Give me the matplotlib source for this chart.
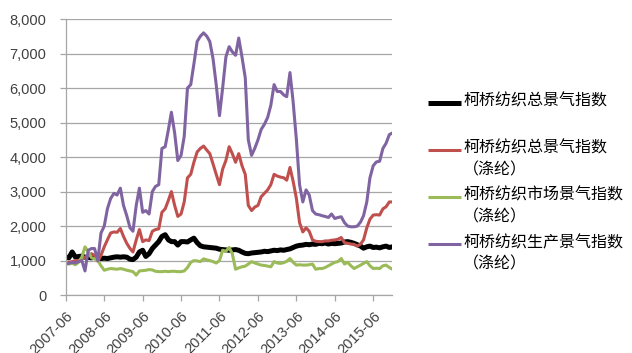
import numpy as np
import pandas as pd
import matplotlib
matplotlib.use('Agg')
import matplotlib.pyplot as plt
import matplotlib.dates as mdates
from matplotlib.lines import Line2D
from matplotlib.ticker import FuncFormatter

plt.rcParams['font.family'] = ['Liberation Sans', 'Noto Sans CJK SC', 'DejaVu Sans']

# monthly index values, 2007-06 .. 2015-12
months = pd.date_range('2007-06-01', periods=103, freq='MS')

total = [1100, 1080, 1250, 1100, 1120, 1130, 1100, 1090, 1080, 1100,
         1090, 1060, 1070, 1060, 1080, 1100, 1110, 1100, 1110, 1100,
         1040, 1030, 1100, 1250, 1300, 1120, 1200, 1350, 1450, 1550,
         1700, 1750, 1600, 1550, 1550, 1450, 1550, 1550, 1540, 1600,
         1650, 1520, 1430, 1400, 1390, 1380, 1370, 1360, 1330, 1320,
         1310, 1300, 1310, 1320, 1300, 1250, 1210, 1200, 1220, 1230,
         1240, 1250, 1270, 1260, 1280, 1300, 1290, 1310, 1300, 1320,
         1340, 1380, 1420, 1440, 1450, 1470, 1460, 1480, 1470, 1500,
         1490, 1510, 1480, 1500, 1490, 1500, 1510, 1540, 1550, 1530,
         1500, 1460, 1420, 1360, 1400, 1420, 1380, 1390, 1370, 1400,
         1420, 1380, 1400]

total_pet = [950, 950, 970, 1000, 1000, 1050, 1100, 1150, 1200, 1150,
             980, 1150, 1400, 1600, 1800, 1830, 1820, 1930, 1700, 1500,
             1350, 1250, 1600, 1900, 1550, 1600, 1580, 1850, 1900, 1920,
             2400, 2500, 2750, 3000, 2600, 2280, 2350, 2700, 3400, 3500,
             3850, 4150, 4250, 4320, 4200, 4100, 3800, 3500, 3200, 3650,
             3900, 4300, 4100, 3850, 4100, 3750, 3500, 2600, 2450, 2550,
             2600, 2850, 2950, 3050, 3200, 3500, 3450, 3420, 3400, 3330,
             3700, 3300, 2800, 2100, 1830, 1950, 1850, 1600, 1560, 1550,
             1550, 1570, 1570, 1590, 1600, 1620, 1670, 1520, 1500, 1480,
             1470, 1420, 1480, 1600, 1950, 2200, 2320, 2330, 2320, 2500,
             2560, 2700, 2700]

market_pet = [950, 900, 920, 880, 950, 1100, 1400, 1250, 1080, 1050,
              1000, 850, 720, 750, 770, 760, 750, 770, 750, 720,
              700, 680, 580, 700, 710, 720, 740, 730, 690, 680,
              680, 690, 680, 690, 690, 680, 680, 700, 800, 950,
              1000, 990, 970, 1050, 1020, 1000, 970, 930, 1000, 1300,
              1270, 1380, 1200, 750, 790, 820, 840, 900, 970, 930,
              900, 870, 860, 840, 820, 970, 930, 920, 940, 980,
              1060, 950, 870, 880, 870, 870, 880, 900, 750, 770,
              770, 800, 850, 900, 950, 970, 1060, 900, 950, 850,
              770, 820, 870, 920, 970, 850, 770, 780, 770, 850,
              870, 800, 750]

prod_pet = [900, 920, 950, 930, 970, 1000, 700, 1300, 1350, 1350,
            1000, 1800, 2000, 2500, 2800, 2950, 2900, 3100, 2600, 2300,
            1950, 1850, 2600, 3100, 2400, 2450, 2350, 3000, 3150, 3200,
            4250, 4300, 4800, 5300, 4700, 3900, 4050, 4600, 6000, 6100,
            6700, 7350, 7500, 7600, 7500, 7350, 6850, 6100, 5200, 6000,
            6900, 7200, 7050, 6950, 7450, 6900, 6300, 4500, 4050, 4250,
            4500, 4800, 4950, 5150, 5500, 6100, 5900, 5900, 5800, 5750,
            6450, 5600, 4500, 3200, 2700, 3050, 2900, 2450, 2350, 2330,
            2300, 2280, 2250, 2350, 2220, 2250, 2270, 2100, 2000, 1980,
            1980, 2000, 2120, 2300, 2700, 3400, 3750, 3860, 3880, 4250,
            4400, 4650, 4700]

series_names = ['柯桥纺织总景气指数',
                '柯桥纺织总景气指数\n（涤纶）',
                '柯桥纺织市场景气指数\n（涤纶）',
                '柯桥纺织生产景气指数\n（涤纶）']
colors = ['#000000', '#C0504D', '#9BBB59', '#8064A2']
widths = [3.6, 2.2, 2.2, 2.2]

tick_dates = pd.date_range('2007-06-01', '2015-06-01', freq='12MS')
yticks = np.arange(0, 8001, 1000)

fig = plt.figure(figsize=(6.32, 3.53), dpi=100)
ax = fig.add_axes([0.104, 0.164, 0.517, 0.782])

for vals, c, lw in zip([total, total_pet, market_pet, prod_pet], colors, widths):
    ax.plot(months, vals, color=c, lw=lw, solid_joinstyle='round')

ax.set_xlim(months[0], months[-1])
ax.set_ylim(0, 8000)
ax.set_yticks(yticks)
ax.yaxis.set_major_formatter(FuncFormatter(lambda v, p: '{:,.0f}'.format(v)))
ax.set_xticks(tick_dates)
ax.xaxis.set_major_formatter(mdates.DateFormatter('%Y-%m'))
for lab in ax.get_xticklabels():
    lab.set_rotation(45)
    lab.set_ha('right')
    lab.set_va('top')
    lab.set_rotation_mode('anchor')

ax.grid(axis='y', color='#A6A6A6', lw=0.9)
ax.set_axisbelow(True)
for s in ['top', 'right']:
    ax.spines[s].set_visible(False)
for s in ['left', 'bottom']:
    ax.spines[s].set_color('#A6A6A6')
    ax.spines[s].set_linewidth(0.9)
ax.tick_params(axis='both', colors='#A6A6A6', labelcolor='#404040',
               labelsize=10.5, length=4, width=0.9, direction='out')
ax.tick_params(axis='x', pad=6)
ax.tick_params(axis='y', pad=10)

# legend drawn by hand so the handle sits on the first text line
leg_rows = [103, 150, 197, 244]
for name, c, lw, row in zip(series_names, colors, widths, leg_rows):
    yf = 1 - row / 353
    fig.add_artist(Line2D([428 / 632, 461 / 632], [yf, yf], color=c, lw=lw,
                          solid_capstyle='butt', transform=fig.transFigure))
    fig.text(463 / 632, yf + 10 / 353, name, ha='left', va='top',
             fontsize=11.5, color='#000000', linespacing=1.35,
             family=['Noto Sans CJK SC', 'DejaVu Sans'])

fig.savefig('out.png', dpi=100)
